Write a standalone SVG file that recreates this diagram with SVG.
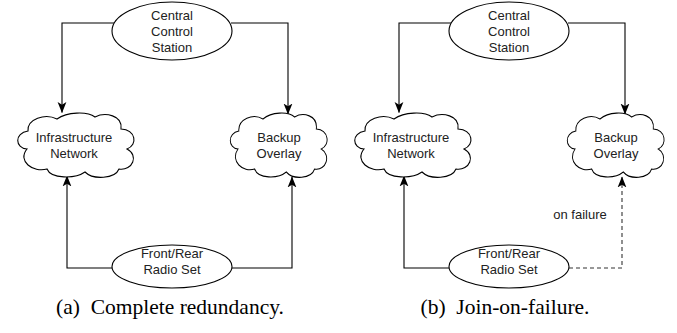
<svg xmlns="http://www.w3.org/2000/svg" width="677" height="333" viewBox="0 0 677 333">
<style>
.shape{fill:#fff;stroke:#000;stroke-width:1.1}
.lbl{font-family:"Liberation Sans",Arial,sans-serif;font-size:13px;fill:#222;text-anchor:middle}
.cap{font-family:"Liberation Serif","Times New Roman",serif;font-size:21.5px;fill:#000;text-anchor:middle;white-space:pre}
.conn{fill:none;stroke:#000;stroke-width:1.1}
.dash{fill:none;stroke:#333;stroke-width:1.1;stroke-dasharray:4 3}
</style>
<defs>
<marker id="arr" markerUnits="userSpaceOnUse" markerWidth="11" markerHeight="11" viewBox="0 0 10 10" refX="9.5" refY="5" orient="auto">
<path d="M0,1 L10,5 L0,9 L2.5,5 Z" fill="#000"/>
</marker>
<path id="cloud" d="M12,36 C0,35 -1,20 13,18 C12,6 30,0 42,6 C52,-1 72,-2 80,4 C90,-1 108,2 106,16 C121,17 123,32 112,36 C124,42 118,58 104,56 C100,66 78,67 70,59 C60,66 36,66 32,56 C18,60 2,48 12,36 Z"/>
</defs>

<g id="connectors">
<path class="conn" d="M114,23 H62 V112.5" marker-end="url(#arr)"/>
<path class="conn" d="M231,23 H288 V114" marker-end="url(#arr)"/>
<path class="conn" d="M112,268 H67 V176" marker-end="url(#arr)"/>
<path class="conn" d="M232,268 H292 V177" marker-end="url(#arr)"/>
<path class="conn" d="M451,23 H399 V112.5" marker-end="url(#arr)"/>
<path class="conn" d="M568,23 H625 V114" marker-end="url(#arr)"/>
<path class="conn" d="M449,268 H404 V176" marker-end="url(#arr)"/>
<path class="dash" d="M569,268 H622 V177" marker-end="url(#arr)"/>
</g>

<g id="a-central">
<ellipse class="shape" cx="172" cy="31" rx="60" ry="29"/>
<text class="lbl" x="172" y="19.5">Central</text>
<text class="lbl" x="172" y="35.5">Control</text>
<text class="lbl" x="172" y="51.5">Station</text>
</g>
<g id="a-infra">
<use href="#cloud" class="shape" transform="translate(15,113)"/>
<text class="lbl" x="74" y="142">Infrastructure</text>
<text class="lbl" x="74" y="158">Network</text>
</g>
<g id="a-backup">
<use href="#cloud" class="shape" transform="translate(228,113) scale(0.833,1)" style="vector-effect:non-scaling-stroke"/>
<text class="lbl" x="279" y="142">Backup</text>
<text class="lbl" x="279" y="158">Overlay</text>
</g>
<g id="a-radio">
<ellipse class="shape" cx="172" cy="266.5" rx="60" ry="21.5"/>
<text class="lbl" x="172" y="258">Front/Rear</text>
<text class="lbl" x="172" y="274">Radio Set</text>
</g>
<text class="cap" x="170" y="314" xml:space="preserve">(a)  Complete redundancy.</text>

<g id="b-central">
<ellipse class="shape" cx="509" cy="31" rx="60" ry="29"/>
<text class="lbl" x="509" y="19.5">Central</text>
<text class="lbl" x="509" y="35.5">Control</text>
<text class="lbl" x="509" y="51.5">Station</text>
</g>
<g id="b-infra">
<use href="#cloud" class="shape" transform="translate(352,113)"/>
<text class="lbl" x="411" y="142">Infrastructure</text>
<text class="lbl" x="411" y="158">Network</text>
</g>
<g id="b-backup">
<use href="#cloud" class="shape" transform="translate(565,113) scale(0.833,1)" style="vector-effect:non-scaling-stroke"/>
<text class="lbl" x="616" y="142">Backup</text>
<text class="lbl" x="616" y="158">Overlay</text>
</g>
<g id="b-radio">
<ellipse class="shape" cx="509" cy="266.5" rx="60" ry="21.5"/>
<text class="lbl" x="509" y="258">Front/Rear</text>
<text class="lbl" x="509" y="274">Radio Set</text>
</g>
<text class="lbl" x="580" y="219">on failure</text>
<text class="cap" x="505" y="314" xml:space="preserve">(b)  Join-on-failure.</text>
</svg>
